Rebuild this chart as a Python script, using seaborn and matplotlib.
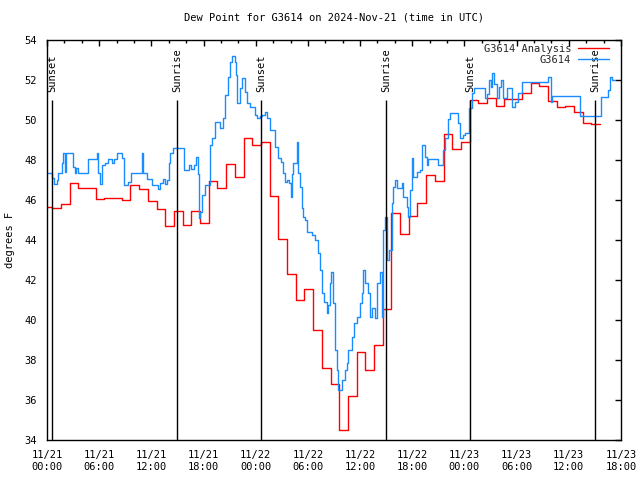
import matplotlib
matplotlib.use("Agg")
import matplotlib.pyplot as plt
import matplotlib.dates as mdates
import numpy as np
import pandas as pd
import seaborn as sns

# ---------------- data ----------------
title = "Dew Point for G3614 on 2024-Nov-21 (time in UTC)"
start = pd.Timestamp("2024-11-21 00:00")
end = pd.Timestamp("2024-11-23 18:00")

# G3614 Analysis: hourly values, each held from hh:36 to the next hh:36
analysis_first_change = 0.6   # hours after start of first value change
analysis_end = 63.6
analysis_values = [45.63, 45.58, 45.78, 46.83, 46.58, 46.58, 46.03, 46.12, 46.08, 46.0,
                   46.73, 46.53, 45.97, 45.53, 44.7, 45.45, 44.75, 45.45, 44.87, 46.95,
                   46.58, 47.8, 47.13, 49.08, 48.75, 48.9, 46.2, 44.03, 42.3, 41.0,
                   41.55, 39.5, 37.6, 36.78, 34.5, 36.2, 38.4, 37.5, 38.75, 40.53,
                   45.37, 44.3, 45.2, 45.87, 47.25, 46.95, 49.3, 48.53, 48.9, 51.0,
                   50.83, 51.08, 50.72, 51.03, 51.03, 51.33, 51.83, 51.7, 50.95, 50.67,
                   50.7, 50.4, 49.87, 49.78]

# G3614 observations: (hours after start, dew point F) at each change
g3614_readings = [
    (0.0, 47.33), (0.57, 47.08), (0.80, 46.78), (1.15, 47.0), (1.26, 47.37), (1.72, 47.83),
    (1.84, 48.33), (2.07, 47.4), (2.18, 48.33), (2.99, 47.67), (3.22, 47.37), (3.33, 47.58),
    (3.56, 47.37), (4.71, 48.03), (5.75, 48.33), (5.86, 47.37), (6.09, 46.8), (6.32, 47.75),
    (6.67, 47.83), (7.01, 48.03), (7.47, 47.83), (7.70, 48.03), (8.05, 48.33), (8.62, 48.08),
    (8.85, 46.75), (9.31, 46.9), (9.66, 47.33), (10.92, 48.33), (11.04, 47.33), (11.50, 47.03),
    (12.07, 46.75), (12.76, 46.53), (12.99, 46.83), (13.34, 47.03), (13.57, 46.8), (13.80, 47.0),
    (14.03, 47.83), (14.14, 48.33), (14.49, 48.58), (15.75, 47.5), (16.33, 47.75), (16.56, 47.55),
    (16.90, 47.75), (17.13, 48.17), (17.36, 47.3), (17.48, 45.08), (17.60, 45.42), (17.82, 46.25),
    (18.17, 46.75), (18.74, 48.75), (18.97, 49.08), (19.32, 49.92), (19.89, 49.58), (20.24, 50.08),
    (20.47, 51.25), (20.81, 52.17), (21.04, 52.92), (21.27, 53.2), (21.62, 52.9), (21.73, 52.25),
    (21.85, 50.83), (22.19, 51.58), (22.42, 52.08), (22.77, 51.42), (23.00, 50.83), (23.34, 50.67),
    (23.92, 50.25), (24.15, 50.08), (24.49, 50.2), (24.72, 50.25), (25.07, 50.42), (25.30, 50.08),
    (25.64, 49.5), (26.22, 48.67), (26.56, 48.08), (26.91, 47.92), (27.14, 47.33), (27.37, 46.92),
    (27.60, 47.0), (27.83, 46.83), (28.06, 46.17), (28.17, 47.3), (28.29, 47.83), (28.75, 48.92),
    (28.86, 47.33), (29.09, 46.67), (29.32, 45.58), (29.44, 45.17), (29.67, 45.0), (29.90, 44.42),
    (30.47, 44.25), (30.82, 44.0), (31.16, 43.33), (31.39, 42.5), (31.62, 41.33), (31.85, 40.92),
    (32.19, 40.33), (32.31, 40.75), (32.54, 41.83), (32.66, 42.4), (32.89, 40.83), (33.12, 38.5),
    (33.34, 37.5), (33.46, 36.5), (33.92, 37.0), (34.26, 37.5), (34.49, 37.83), (34.61, 38.5),
    (35.07, 39.17), (35.30, 39.83), (35.64, 40.17), (35.99, 40.83), (36.22, 41.33), (36.33, 42.5),
    (36.56, 41.83), (36.91, 41.33), (37.14, 40.17), (37.37, 40.58), (37.71, 40.08), (37.94, 41.83),
    (38.29, 42.42), (38.52, 40.17), (38.63, 44.5), (38.86, 45.17), (39.09, 43.0), (39.32, 43.5),
    (39.67, 45.83), (39.78, 46.67), (40.01, 47.0), (40.24, 46.58), (40.82, 46.83), (40.93, 46.17),
    (41.39, 45.67), (41.51, 45.17), (41.74, 46.5), (41.97, 48.08), (42.08, 47.17), (42.54, 47.42),
    (42.89, 47.5), (43.12, 48.75), (43.46, 48.17), (43.69, 47.75), (43.81, 48.05), (44.96, 47.75),
    (45.53, 48.5), (45.76, 49.08), (46.11, 50.03), (46.34, 50.33), (47.26, 49.83), (47.49, 49.08),
    (47.83, 49.25), (48.06, 49.37), (48.52, 50.58), (48.86, 51.33), (49.10, 51.58), (50.36, 51.08),
    (50.59, 51.3), (50.82, 52.0), (51.05, 51.67), (51.17, 52.33), (51.40, 51.8), (51.74, 51.08),
    (51.97, 51.67), (52.20, 52.0), (52.43, 51.12), (52.89, 51.58), (53.47, 50.67), (53.81, 50.92),
    (54.16, 51.33), (54.62, 51.9), (57.61, 52.17), (57.95, 50.92), (58.07, 51.18), (61.29, 50.2),
    (63.70, 51.17), (64.50, 51.5), (64.73, 52.17), (64.96, 52.0), (65.31, 52.0),
]

sun_event_hours = [0.6, 15.0, 24.63, 38.97, 48.66, 63.0]
sun_event_labels = ["Sunset", "Sunrise", "Sunset", "Sunrise", "Sunset", "Sunrise"]
sun_line_top = 51.0

series_names = ["G3614 Analysis", "G3614"]
series_colors = {"G3614 Analysis": "#ff0000", "G3614": "#1a8cff"}

# ---------------- build tables ----------------
a_hours = [0.0] + [analysis_first_change + i for i in range(len(analysis_values) - 1)] + [analysis_end]
a_vals = analysis_values + [analysis_values[-1]]
df_a = pd.DataFrame({"time": start + pd.to_timedelta(a_hours, unit="h"),
                     "dew": a_vals, "series": series_names[0]})
b_hours = [h for h, v in g3614_readings]
b_vals = [v for h, v in g3614_readings]
df_b = pd.DataFrame({"time": start + pd.to_timedelta(b_hours, unit="h"),
                     "dew": b_vals, "series": series_names[1]})
df = pd.concat([df_a, df_b], ignore_index=True)

# ---------------- plot ----------------
sns.set_theme(style="white")
plt.rcParams["font.family"] = ["DejaVu Sans Mono", "DejaVu Sans"]
plt.rcParams["font.size"] = 7.5

fig = plt.figure(figsize=(6.4, 4.8), dpi=100)
ax = fig.add_axes([47 / 640, 1 - 440 / 480, 574 / 640, 400 / 480])

sns.lineplot(data=df, x="time", y="dew", hue="series", hue_order=series_names,
             palette=series_colors, estimator=None, drawstyle="steps-post",
             lw=1.0, ax=ax)

sun_times = start + pd.to_timedelta(sun_event_hours, unit="h")
ax.vlines(sun_times, 34, sun_line_top, color="black", lw=1.0)
for t, lab in zip(sun_times, sun_event_labels):
    ax.text(t, sun_line_top + 0.4, lab, rotation=90, ha="center", va="bottom",
            fontsize=7.5, color="black")

ax.set_xlim(start, end)
ax.set_ylim(34, 54)
ax.set_yticks(np.arange(34, 55, 2))
ax.xaxis.set_major_locator(mdates.HourLocator(byhour=[0, 6, 12, 18]))
ax.xaxis.set_minor_locator(mdates.HourLocator(byhour=range(0, 24, 2)))
ax.xaxis.set_major_formatter(mdates.DateFormatter("%m/%d\n%H:%M"))
ax.tick_params(which="both", direction="in", top=True, right=True, color="black",
               labelsize=7.5, labelcolor="black")
ax.tick_params(which="major", length=4, width=1, pad=7)
ax.tick_params(which="minor", length=2, width=1)
for s in ax.spines.values():
    s.set_color("black")
    s.set_linewidth(1.0)

ax.set_xlabel("")
ax.set_ylabel("degrees F", fontsize=7.5, color="black")
ax.yaxis.set_label_coords(-0.056, 0.5)
ax.set_title(title, fontsize=7.5, color="black", pad=14)

handles, labels = ax.get_legend_handles_labels()
leg = ax.legend(handles, labels, loc="upper right", bbox_to_anchor=(0.993, 1.012),
                frameon=False, markerfirst=False,
                handlelength=2.9, handletextpad=0.7, labelspacing=0.15,
                borderaxespad=0.3, borderpad=0.5, fontsize=7.5)

for lbl in ax.get_xticklabels():
    lbl.set_linespacing(1.3)

fig.savefig("out.png", dpi=100)
